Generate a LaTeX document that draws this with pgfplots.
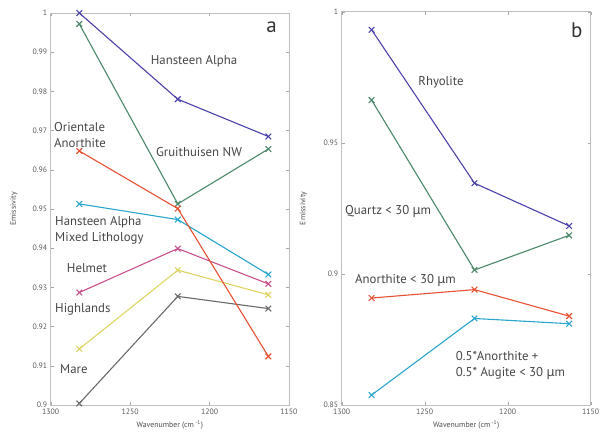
\documentclass[border=0pt]{standalone}
\usepackage{fontspec}
\setmainfont{PT Sans}
\newfontfamily\grk{Noto Sans}
\usepackage{pgfplots}
\pgfplotsset{compat=1.18}
\definecolor{cHA}{RGB}{75,65,170}
\definecolor{cGR}{RGB}{75,135,105}
\definecolor{cOR}{RGB}{232,80,50}
\definecolor{cMX}{RGB}{40,165,205}
\definecolor{cHE}{RGB}{200,80,140}
\definecolor{cHI}{RGB}{222,212,100}
\definecolor{cMA}{RGB}{105,105,105}
\definecolor{txt}{RGB}{70,70,70}
\newcommand{\um}{{\grk μ}m}
\pgfplotsset{
  emstyle/.style={
    scale only axis, anchor=south west, clip=false,
    x dir=reverse, xmin=1150, xmax=1300, xtick={1150,1200,1250,1300},
    axis line style={black!25}, tick style={black!35},
    tick align=inside, major tick length=3pt,
    tick label style={font=\fontsize{7.8}{8}\selectfont, text=black!65},
    xticklabel style={/pgf/number format/1000 sep={}},
    /pgf/number format/assume math mode=true,
    label style={font=\fontsize{7.8}{8}\selectfont, text=black!70},
    xlabel={Wavenumber (cm\,\textsuperscript{-1})},
    ylabel={Emissivity},
    ylabel style={at={(axis description cs:-0.125,0.5)}},
    every axis plot/.append style={mark=x, mark size=4pt, line width=1.1pt},
  },
}
\begin{document}
\begin{tikzpicture}
\path[use as bounding box] (0pt,0pt) rectangle (606pt,436pt);

\begin{axis}[emstyle, at={(50.7pt,31pt)}, width=238.3pt, height=392pt,
  ymin=0.9, ymax=1, ytick={0.9,0.91,0.92,0.93,0.94,0.95,0.96,0.97,0.98,0.99,1}]
\addplot[cHA] coordinates {(1282,1.000) (1220,0.978) (1163,0.9685)};
\addplot[cGR] coordinates {(1282,0.9972) (1220,0.9513) (1163,0.9653)};
\addplot[cMX] coordinates {(1282,0.9513) (1220,0.9473) (1163,0.9333)};
\addplot[cHE] coordinates {(1282,0.9287) (1220,0.9399) (1163,0.9309)};
\addplot[cHI] coordinates {(1282,0.9143) (1220,0.9344) (1163,0.9281)};
\addplot[cMA] coordinates {(1282,0.9004) (1220,0.9277) (1163,0.9246)};
\addplot[cOR] coordinates {(1282,0.9648) (1220,0.9501) (1163,0.9124)};
\end{axis}

\begin{axis}[emstyle, at={(341.7pt,31pt)}, width=249pt, height=393.3pt,
  ymin=0.85, ymax=1, ytick={0.85,0.9,0.95,1}]
\addplot[cHA] coordinates {(1282,0.9931) (1220,0.9346) (1163,0.9183)};
\addplot[cGR] coordinates {(1282,0.9663) (1220,0.9015) (1163,0.9147)};
\addplot[cOR] coordinates {(1282,0.8908) (1220,0.8940) (1163,0.8839)};
\addplot[cMX] coordinates {(1282,0.8538) (1220,0.8830) (1163,0.8810)};
\end{axis}

\begin{scope}[every node/.style={font=\fontsize{12.8}{16.3}\selectfont, text=txt, inner sep=0pt}]
\node at (194pt,374.3pt) {Hansteen Alpha};
\node[anchor=west, align=left] at (54pt,301.3pt) {Orientale\\Anorthite};
\node at (199pt,284.3pt) {Gruithuisen NW};
\node[anchor=west, align=left] at (55pt,206pt) {Hansteen Alpha\\Mixed Lithology};
\node[anchor=west] at (66.7pt,168.3pt) {Helmet};
\node[anchor=west] at (55pt,127pt) {Highlands};
\node[anchor=west] at (60pt,66.7pt) {Mare};
\node at (441pt,353.7pt) {Rhyolite};
\node[anchor=west] at (345pt,224.3pt) {Quartz < 30 \um};
\node[anchor=west] at (355pt,155.3pt) {Anorthite < 30 \um};
\node[anchor=west, align=left] at (455.7pt,70.3pt) {0.5*Anorthite +\\0.5* Augite < 30 \um};
\end{scope}
\node[font=\fontsize{21}{21}\selectfont, text=black!80] at (271.7pt,409pt) {a};
\node[font=\fontsize{21}{21}\selectfont, text=black!80] at (576.7pt,406pt) {b};
\end{tikzpicture}
\end{document}
